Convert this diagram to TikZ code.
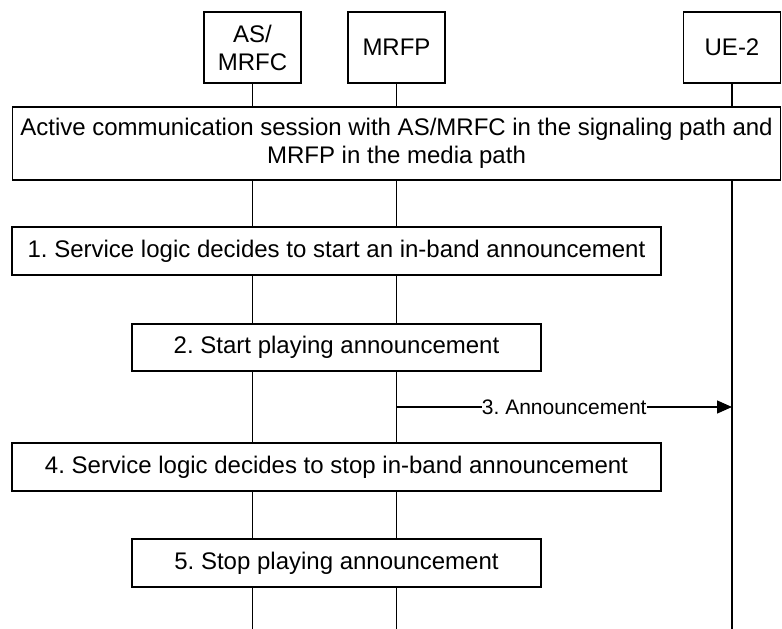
\documentclass[tikz,border=0pt]{standalone}
\usepackage{fontspec}
\setmainfont{Liberation Sans}
\usetikzlibrary{arrows.meta}
\frenchspacing

\tikzset{
  entity/.style={draw,line width=1.3pt,fill=white,minimum width=97pt,
    minimum height=71pt,inner sep=0pt,align=center},
  stepbox/.style={draw,line width=1.3pt,fill=white,inner sep=0pt,align=center},
  lifeline/.style={line width=1.3pt},
  msg/.style={line width=1.3pt,-{Triangle[length=15pt,width=13pt]}},
  msglabel/.style={fill=white,inner sep=0pt,font=\fontsize{21pt}{24pt}\selectfont},
}

\begin{document}
\begin{tikzpicture}[x=1pt,y=-1pt,font=\fontsize{24pt}{28pt}\selectfont]
  \useasboundingbox (0,0) rectangle (782,629);

  % entities
  \node[entity] (as)   at (252.5,47.5) {AS/\\MRFC};
  \node[entity] (mrfp) at (396.5,47.5) {MRFP};
  \node[entity] (ue)   at (732,47.5)   {UE-2};
  \coordinate (bottom) at (0,629);

  \foreach \n in {as,mrfp,ue}
    \draw[lifeline] (\n.south) -- (\n.south |- bottom);

  % boxes
  \node[stepbox,minimum width=768pt,minimum height=73pt] (session) at (396.5,143.5)
    {Active communication session with AS/MRFC in the signaling path and\\MRFP in the media path};
  \node[stepbox,minimum width=649pt,minimum height=48pt] (s1) at (336.5,251)
    {1. Service logic decides to start an in-band announcement};
  \node[stepbox,minimum width=409pt,minimum height=47pt] (s2) at (336.5,347.5)
    {2. Start playing announcement};

  \coordinate (y3) at (0,407);
  \draw[msg] (mrfp |- y3) -- node[msglabel] (l3) {3. Announcement} (ue |- y3);

  \node[stepbox,minimum width=649pt,minimum height=48pt] (s4) at (336.5,467)
    {4. Service logic decides to stop in-band announcement};
  \node[stepbox,minimum width=409pt,minimum height=48pt] (s5) at (336.5,563)
    {5. Stop playing announcement};
\end{tikzpicture}
\end{document}
